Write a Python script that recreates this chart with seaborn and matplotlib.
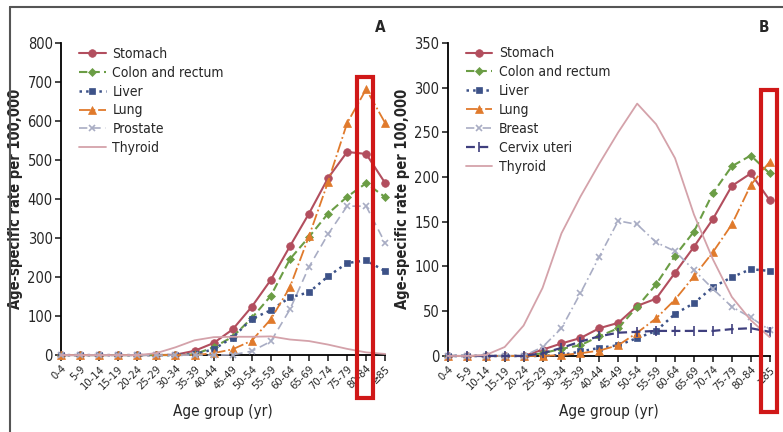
import numpy as np
import pandas as pd
import seaborn as sns
import matplotlib.pyplot as plt
from matplotlib.patches import Rectangle
from matplotlib.lines import Line2D

age_groups = ['0-4', '5-9', '10-14', '15-19', '20-24', '25-29', '30-34', '35-39', '40-44',
              '45-49', '50-54', '55-59', '60-64', '65-69', '70-74', '75-79', '80-84', '\u226585']

# Panel A (men)
a_stomach = [0, 0, 0, 0, 0, 0, 1, 11, 31, 66, 124, 193, 279, 363, 454, 521, 516, 441]
a_colon = [0, 0, 0, 0, 0, 0, 0, 2, 20, 47, 95, 152, 246, 303, 363, 406, 441, 405]
a_liver = [0, 0, 0, 0, 0, 0, 0, 2, 15, 45, 93, 115, 148, 161, 202, 236, 243, 215]
a_lung = [0, 0, 0, 0, 0, 0, 0, 0, 5, 15, 37, 92, 174, 305, 444, 595, 682, 595]
a_prostate = [0, 0, 0, 0, 0, 0, 0, 0, 0, 1, 10, 35, 117, 226, 310, 382, 382, 287]
a_thyroid = [0, 0, 0, 0, 0, 5, 20, 38, 46, 47, 47, 48, 40, 36, 27, 16, 7, 3]

# Panel B (women)
b_stomach = [0, 0, 0, 0, 0, 7, 14, 20, 31, 37, 56, 64, 93, 122, 153, 190, 204, 174]
b_colon = [0, 0, 0, 0, 0, 3, 8, 12, 22, 31, 55, 80, 112, 139, 182, 212, 224, 204]
b_liver = [0, 0, 0, 0, 0, 0, 1, 5, 9, 12, 20, 28, 47, 59, 77, 88, 97, 95]
b_lung = [0, 0, 0, 0, 0, 0, 1, 3, 6, 12, 26, 42, 63, 89, 116, 147, 191, 217]
b_breast = [0, 0, 0, 0, 0, 10, 31, 70, 111, 151, 147, 127, 117, 96, 75, 55, 43, 29]
b_cervix = [0, 0, 0, 0, 0, 3, 9, 16, 22, 26, 27, 28, 28, 28, 28, 30, 31, 27]
b_thyroid = [0, 0, 1, 10, 34, 76, 137, 178, 215, 250, 282, 259, 221, 158, 108, 66, 40, 21]

styles = {
    'Stomach': dict(color='#b24e5e', ls='-', marker='o', ms=5.5, lw=1.5),
    'Colon and rectum': dict(color='#6b9d45', ls=(0, (4, 2)), marker='D', ms=4.5, lw=1.5),
    'Liver': dict(color='#3d5288', ls=':', marker='s', ms=4.5, lw=1.8),
    'Lung': dict(color='#e07a2c', ls='-.', marker='^', ms=5.5, lw=1.3),
    'Prostate': dict(color='#a9adc4', ls=(0, (5, 3)), marker='x', ms=5, lw=1.2),
    'Breast': dict(color='#a9adc4', ls=(0, (5, 2, 1, 2)), marker='x', ms=5, lw=1.2),
    'Cervix uteri': dict(color='#3f3f7e', ls=(0, (4, 2)), marker='|', ms=7, lw=1.6),
    'Thyroid': dict(color='#d4a2aa', ls='-', marker=None, ms=0, lw=1.3),
}

sns.set_style('ticks')
plt.rcParams['font.family'] = ['DejaVu Sans']
plt.rcParams['font.stretch'] = 'condensed'

fig = plt.figure(figsize=(7.83, 4.32), dpi=100)
axA = fig.add_axes([0.078, 0.178, 0.414, 0.722])
axB = fig.add_axes([0.572, 0.176, 0.411, 0.725])


def draw(ax, series, ymax, ystep, box_idx, box_top, box_bot, label):
    x = np.arange(len(age_groups))
    for name, vals in series:
        st = styles[name]
        df = pd.DataFrame({'x': x, 'y': vals})
        sns.lineplot(data=df, x='x', y='y', ax=ax, color=st['color'], linestyle=st['ls'],
                     lw=st['lw'], marker=st['marker'], markersize=st['ms'],
                     markeredgecolor=st['color'], markeredgewidth=1.2 if st['marker'] in ('x', '|') else 0.5,
                     label=name, clip_on=False, zorder=3)
    ax.set_xlim(0, len(age_groups) - 1)
    ax.set_ylim(0, ymax)
    ax.set_yticks(np.arange(0, ymax + 1, ystep))
    ax.set_xticks(x)
    ax.set_xticklabels(age_groups, rotation=45, ha='right', rotation_mode='anchor', fontsize=8)
    ax.tick_params(axis='y', labelsize=10.5, length=4, width=1.2, pad=2)
    ax.tick_params(axis='x', length=4, width=1.2, pad=2)
    ax.set_xlabel('Age group (yr)', fontsize=11, labelpad=9)
    ax.set_ylabel('Age-specific rate per 100,000', fontsize=10.5, fontweight='bold', labelpad=3)
    for s in ('top', 'right'):
        ax.spines[s].set_visible(False)
    for s in ('left', 'bottom'):
        ax.spines[s].set_linewidth(1.3)
        ax.spines[s].set_color('black')
    ax.legend(loc='upper left', bbox_to_anchor=(0.03, 1.015), frameon=False, fontsize=10,
              handlelength=1.9, labelspacing=0.35, borderaxespad=0.2, handletextpad=0.5)
    ax.add_patch(Rectangle((box_idx - 0.47, box_bot), 0.85, box_top - box_bot, fill=False,
                           edgecolor='#d01818', lw=3, clip_on=False, zorder=5))
    ax.text(1.0, 1.05, label, transform=ax.transAxes, fontsize=11, fontweight='bold',
            ha='right', va='center')


draw(axA, [('Stomach', a_stomach), ('Colon and rectum', a_colon), ('Liver', a_liver),
           ('Lung', a_lung), ('Prostate', a_prostate), ('Thyroid', a_thyroid)],
     800, 100, 16, 713, -110, 'A')
draw(axB, [('Stomach', b_stomach), ('Colon and rectum', b_colon), ('Liver', b_liver),
           ('Lung', b_lung), ('Breast', b_breast), ('Cervix uteri', b_cervix), ('Thyroid', b_thyroid)],
     350, 50, 17, 297, -63, 'B')

# outer frame of the screenshot
fig.add_artist(Line2D([0.013, 1.0], [0.984, 0.984], color='#555555', lw=1.5))
fig.add_artist(Line2D([0.013, 0.013], [0.0, 0.984], color='#555555', lw=1.5))

fig.savefig('out.png', dpi=100)
